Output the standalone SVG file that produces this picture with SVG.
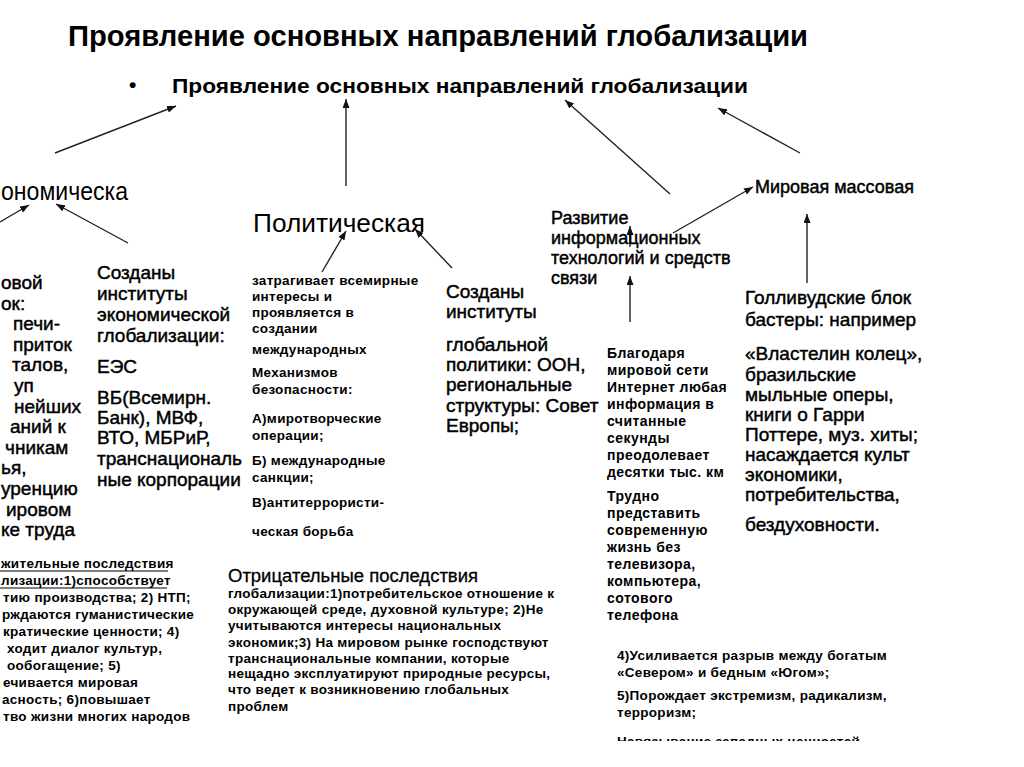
<svg xmlns="http://www.w3.org/2000/svg" width="1024" height="767" viewBox="0 0 1024 767">
<style>
text{font-family:"Liberation Sans",Arial,sans-serif;fill:#000}
.t1{font-size:29px;font-weight:bold}
.t2{font-size:21px;font-weight:bold}
.big{font-size:25px}
.mid{font-size:19px;stroke:#000;stroke-width:0.45}
.mid18{font-size:18px;stroke:#000;stroke-width:0.45}
.sm{font-size:13.5px;font-weight:bold;letter-spacing:0.3px}
.sm2{font-size:14px;font-weight:bold;letter-spacing:0.45px}
.neg{font-size:18px;stroke:#000;stroke-width:0.3}
.con line{stroke:#222;stroke-width:1.4;marker-end:url(#ah)}
.ul{stroke:#000;stroke-width:1.2}
</style>
<defs>
<marker id="ah" markerUnits="userSpaceOnUse" markerWidth="9" markerHeight="7" refX="9" refY="3.5" orient="auto">
<path d="M0,0 L9,3.5 L0,7 z" fill="#111"/>
</marker>
<clipPath id="cut"><rect x="0" y="0" width="1024" height="741"/></clipPath>
</defs>
<rect width="1024" height="767" fill="#fff"/>

<g id="title">
<text class="t1" x="68" y="46" textLength="740" lengthAdjust="spacingAndGlyphs">Проявление основных направлений глобализации</text>
</g>
<g id="root">
<text class="t2" x="129" y="92">•</text>
<text class="t2" x="172" y="93" textLength="576" lengthAdjust="spacingAndGlyphs">Проявление основных направлений глобализации</text>
</g>

<g id="connectors" class="con">
<line x1="55" y1="153" x2="176" y2="106"/>
<line x1="346" y1="186" x2="346" y2="99"/>
<line x1="670" y1="194" x2="565" y2="100"/>
<line x1="800" y1="153" x2="718" y2="108"/>
<line x1="0" y1="222" x2="29" y2="205"/>
<line x1="128" y1="243" x2="56" y2="204"/>
<line x1="322" y1="272" x2="346" y2="231"/>
<line x1="452" y1="268" x2="415" y2="229"/>
<line x1="630" y1="322" x2="630" y2="276"/>
<line x1="630" y1="247" x2="630" y2="226"/>
<line x1="673" y1="233" x2="753" y2="187"/>
<line x1="807" y1="283" x2="807" y2="214"/>
</g>

<g id="econ">
<text class="big" x="1" y="200" textLength="127" lengthAdjust="spacingAndGlyphs">ономическа</text>
</g>

<g id="econ-market">
<text class="mid" x="1" y="289">овой</text>
<text class="mid" x="1" y="310">ок:</text>
<text class="mid" x="13" y="330">печи-</text>
<text class="mid" x="13" y="351">приток</text>
<text class="mid" x="12" y="371">талов,</text>
<text class="mid" x="14" y="392">уп</text>
<text class="mid" x="14" y="413">нейших</text>
<text class="mid" x="10" y="433">аний к</text>
<text class="mid" x="5" y="454">чникам</text>
<text class="mid" x="1" y="474">ья,</text>
<text class="mid" x="1" y="495">уренцию</text>
<text class="mid" x="6" y="516">ировом</text>
<text class="mid" x="1" y="536">ке труда</text>
</g>

<g id="econ-institutes">
<text class="mid" x="97" y="279">Созданы</text>
<text class="mid" x="97" y="300">институты</text>
<text class="mid" x="97" y="321">экономической</text>
<text class="mid" x="97" y="342">глобализации:</text>
<text class="mid" x="97" y="373">ЕЭС</text>
<text class="mid" x="97" y="404">ВБ(Всемирн.</text>
<text class="mid" x="97" y="424">Банк), МВФ,</text>
<text class="mid" x="97" y="444">ВТО, МБРиР,</text>
<text class="mid" x="97" y="465">транснациональ</text>
<text class="mid" x="97" y="486">ные корпорации</text>
</g>

<g id="polit">
<text class="big" x="253" y="232" textLength="172" lengthAdjust="spacingAndGlyphs">Политическая</text>
</g>

<g id="polit-security">
<text class="sm" x="252" y="285">затрагивает всемирные</text>
<text class="sm" x="252" y="301">интересы и</text>
<text class="sm" x="252" y="317">проявляется в</text>
<text class="sm" x="252" y="333">создании</text>
<text class="sm" x="252" y="354">международных</text>
<text class="sm" x="252" y="377">Механизмов</text>
<text class="sm" x="252" y="394">безопасности:</text>
<text class="sm" x="252" y="423">А)миротворческие</text>
<text class="sm" x="252" y="440">операции;</text>
<text class="sm" x="252" y="465">Б) международные</text>
<text class="sm" x="252" y="482">санкции;</text>
<text class="sm" x="252" y="507">В)антитеррористи-</text>
<text class="sm" x="252" y="536">ческая борьба</text>
</g>

<g id="polit-institutes">
<text class="mid" x="446" y="298">Созданы</text>
<text class="mid" x="446" y="318">институты</text>
<text class="mid" x="446" y="351">глобальной</text>
<text class="mid" x="446" y="371">политики: ООН,</text>
<text class="mid" x="446" y="391">региональные</text>
<text class="mid" x="446" y="412">структуры: Совет</text>
<text class="mid" x="446" y="432">Европы;</text>
</g>

<g id="info">
<text class="mid18" x="551" y="224">Развитие</text>
<text class="mid18" x="551" y="244">информационных</text>
<text class="mid18" x="551" y="264">технологий и средств</text>
<text class="mid18" x="551" y="284">связи</text>
</g>

<g id="info-text">
<text class="sm2" x="607" y="358">Благодаря</text>
<text class="sm2" x="607" y="375">мировой сети</text>
<text class="sm2" x="607" y="392">Интернет любая</text>
<text class="sm2" x="607" y="409">информация в</text>
<text class="sm2" x="607" y="426">считанные</text>
<text class="sm2" x="607" y="443">секунды</text>
<text class="sm2" x="607" y="460">преодолевает</text>
<text class="sm2" x="607" y="477">десятки тыс. км</text>
<text class="sm2" x="607" y="501">Трудно</text>
<text class="sm2" x="607" y="518">представить</text>
<text class="sm2" x="607" y="535">современную</text>
<text class="sm2" x="607" y="552">жизнь без</text>
<text class="sm2" x="607" y="569">телевизора,</text>
<text class="sm2" x="607" y="586">компьютера,</text>
<text class="sm2" x="607" y="603">сотового</text>
<text class="sm2" x="607" y="620">телефона</text>
</g>

<g id="mass">
<text class="mid18" x="755" y="193">Мировая массовая</text>
</g>

<g id="mass-text">
<text class="mid" x="745" y="304">Голливудские блок</text>
<text class="mid" x="745" y="326">бастеры: например</text>
<text class="mid" x="745" y="360">«Властелин колец»,</text>
<text class="mid" x="745" y="381">бразильские</text>
<text class="mid" x="745" y="401">мыльные оперы,</text>
<text class="mid" x="745" y="421">книги о Гарри</text>
<text class="mid" x="745" y="441">Поттере, муз. хиты;</text>
<text class="mid" x="745" y="461">насаждается культ</text>
<text class="mid" x="745" y="481">экономики,</text>
<text class="mid" x="745" y="501">потребительства,</text>
<text class="mid" x="745" y="531">бездуховности.</text>
</g>

<g id="positive">
<text class="sm" x="1" y="568">жительные последствия</text>
<text class="sm" x="1" y="585">лизации:1)способствует</text>
<line class="ul" x1="0" y1="571" x2="168" y2="571"/>
<line class="ul" x1="0" y1="588" x2="167" y2="588"/>
<text class="sm" x="3" y="602">тию производства; 2) НТП;</text>
<text class="sm" x="2" y="619">рждаются гуманистические</text>
<text class="sm" x="3" y="636">кратические ценности; 4)</text>
<text class="sm" x="7" y="653">ходит диалог культур,</text>
<text class="sm" x="7" y="670">ообогащение; 5)</text>
<text class="sm" x="3" y="687">ечивается мировая</text>
<text class="sm" x="2" y="704">асность; 6)повышает</text>
<text class="sm" x="3" y="721">тво жизни многих народов</text>
</g>

<g id="negative">
<text class="neg" x="228" y="582" textLength="250" lengthAdjust="spacingAndGlyphs">Отрицательные последствия</text>
<text class="sm" x="228" y="598">глобализации:1)потребительское отношение к</text>
<text class="sm" x="228" y="614">окружающей среде, духовной культуре; 2)Не</text>
<text class="sm" x="228" y="630">учитываются интересы национальных</text>
<text class="sm" x="228" y="647">экономик;3) На мировом рынке господствуют</text>
<text class="sm" x="228" y="663">транснациональные компании, которые</text>
<text class="sm" x="228" y="678">нещадно эксплуатируют природные ресурсы,</text>
<text class="sm" x="228" y="694">что ведет к возникновению глобальных</text>
<text class="sm" x="228" y="711">проблем</text>
</g>

<g id="negative-cont">
<text class="sm" x="617" y="660">4)Усиливается разрыв между богатым</text>
<text class="sm" x="617" y="677">«Севером» и бедным «Югом»;</text>
<text class="sm" x="617" y="700">5)Порождает экстремизм, радикализм,</text>
<text class="sm" x="617" y="717">терроризм;</text>
<text class="sm" x="617" y="746" clip-path="url(#cut)">Навязывание западных ценностей</text>
</g>
</svg>
